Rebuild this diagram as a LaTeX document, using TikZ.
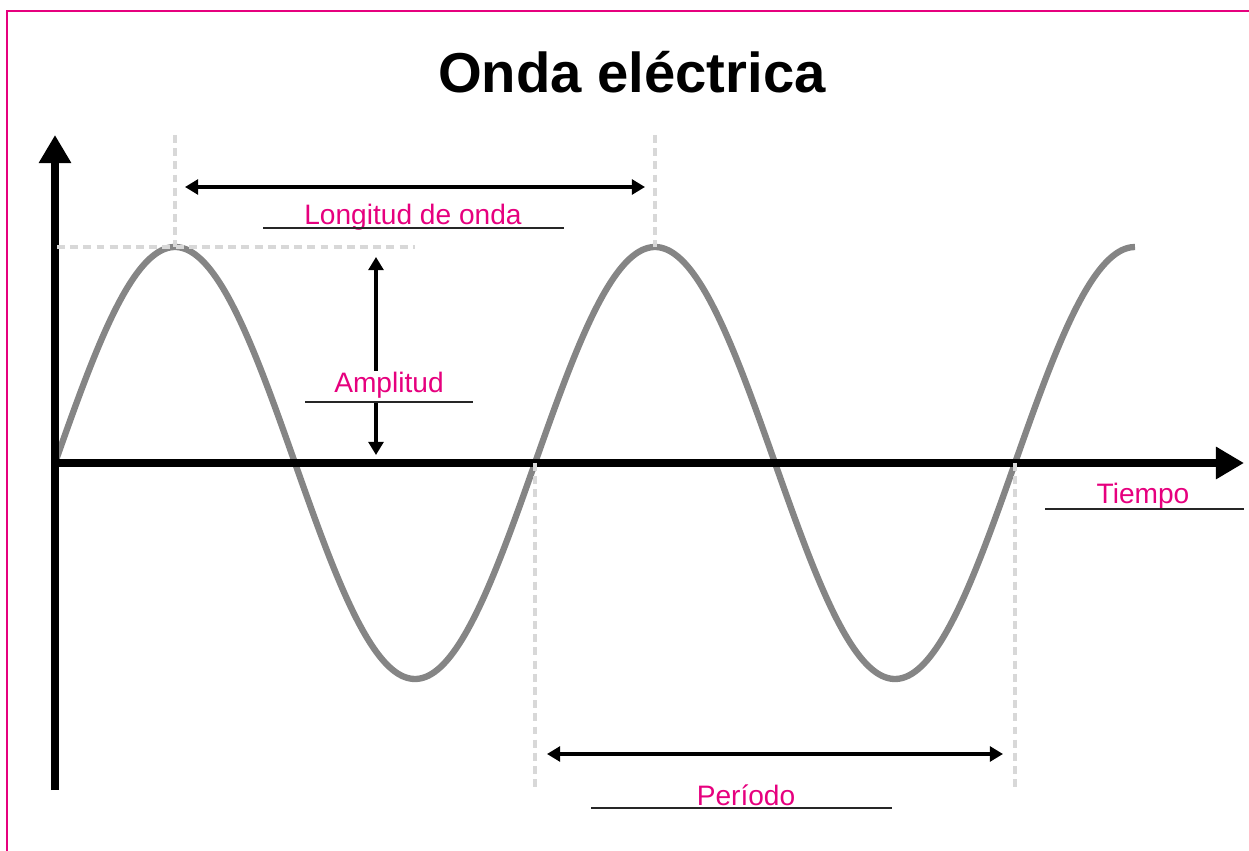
\documentclass[tikz,border=0pt]{standalone}
\usepackage{fontspec}
\setmainfont{Liberation Sans}
\usepackage{xcolor}
\usetikzlibrary{arrows.meta, positioning}

\definecolor{framepink}{HTML}{E6007E}
\definecolor{wavegray}{HTML}{858585}
\definecolor{guidegray}{HTML}{D8D8D8}

\begin{document}
\begin{tikzpicture}[
    x=0.02cm, y=-0.02cm,
    axis/.style={line width=4.5pt, -{Triangle[length=16pt, width=17.5pt]}},
    wave/.style={line width=3.6pt, wavegray},
    guide/.style={line width=1.9pt, guidegray, dash pattern=on 4.5pt off 3pt},
    measure/.style={line width=1.8pt, {Triangle[length=7.5pt, width=8.5pt]}-{Triangle[length=7.5pt, width=8.5pt]}},
    lbl/.style={font=\fontsize{16}{19}\selectfont, text=framepink, anchor=base, inner sep=1pt},
    uline/.style={line width=0.8pt, black!85},
]
\useasboundingbox (0,0) rectangle (1249,851);

% frame
\draw[framepink, line width=1.7pt] (7,851) -- (7,11) -- (1249,11);

% title
\node[font=\bfseries\fontsize{32}{38}\selectfont] (title) at (632,72) {Onda eléctrica};

% wave
\draw[wave] plot[domain=55:1135, samples=240, smooth] (\x, {463-216*sin(0.75*(\x-55))});

% axes
\coordinate (origin) at (55,463);
\coordinate (ytip) at (55,135);
\coordinate (ybot) at (55,790);
\coordinate (xtip) at (1244,463);
\draw[line width=4.5pt] (ybot) -- (origin);
\draw[axis] (origin) -- (ytip);
\draw[axis] (origin) -- (xtip);

% guides
\draw[guide] (175,135) -- (175,247);
\draw[guide] (655,135) -- (655,247);
\draw[guide] (57,247) -- (415,247);
\draw[guide] (535,463) -- (535,790);
\draw[guide] (1015,463) -- (1015,790);

% measures
\coordinate (lenL) at (185,187);
\coordinate (lenR) at (645,187);
\coordinate (ampT) at (376,257);
\coordinate (ampB) at (376,455);
\coordinate (perL) at (547,754);
\coordinate (perR) at (1003,754);
\draw[measure] (lenL) -- (lenR);
\draw[measure] (ampT) -- (ampB);
\draw[measure] (perL) -- (perR);

% labels
\node[lbl] (lenlbl) at (413,225) {Longitud de onda};
\node[lbl, fill=white] (amplbl) at (389,393) {Amplitud};
\node[lbl] (timelbl) at (1143,503) {Tiempo};
\node[lbl] (perlbl) at (746,805) {Período};

\draw[uline] (263,228) -- (564,228);
\draw[uline] (305,402) -- (473,402);
\draw[uline] (1045,509) -- (1244,509);
\draw[uline] (591,808) -- (892,808);
\end{tikzpicture}
\end{document}
